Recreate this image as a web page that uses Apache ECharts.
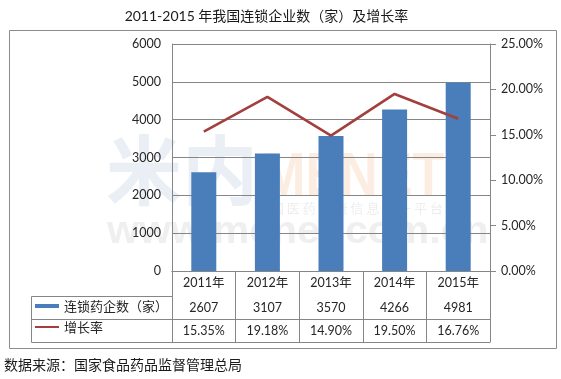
<!DOCTYPE html>
<html><head><meta charset="utf-8">
<script src="https://cdn.jsdelivr.net/npm/echarts@6/dist/echarts.min.js"></script>
<style>html,body{margin:0;padding:0;background:#fff}#c{width:561px;height:379px}</style>
</head><body><div id="c"></div>
<script>
// ---- data ----
const titleText = '2011-2015 年我国连锁企业数（家）及增长率';
const sourceText = '数据来源：国家食品药品监督管理总局';
const years = ['2011年', '2012年', '2013年', '2014年', '2015年'];
const storeCounts = [2607, 3107, 3570, 4266, 4981];
const growthRates = [15.35, 19.18, 14.90, 19.50, 16.76];
const barName = '连锁药企数（家）';
const lineName = '增长率';
const leftAxisTicks = [0, 1000, 2000, 3000, 4000, 5000, 6000];
const rightAxisTicks = [0, 5, 10, 15, 20, 25];

// ---- styling ----
const FONT = 'Lato, "Noto Sans CJK SC", sans-serif';
const CJK = '"Noto Sans CJK SC", sans-serif';
const GRAY = '#868686';
const TXT = '#262626';
const BAR = '#4a7ebb';
const LINE = '#a3403d';

const chart = echarts.init(document.getElementById('c'), null, {renderer: 'canvas'});

const pct = v => v.toFixed(2) + '%';
const catAxisBase = {
  type: 'category', position: 'bottom', boundaryGap: true,
  axisLine: {show: true, lineStyle: {color: GRAY, width: 1}},
  axisTick: {show: false},
  axisLabel: {fontFamily: FONT, fontSize: 12.5, color: TXT, margin: 6},
  splitLine: {show: false}
};

const option = {
  animation: false,
  backgroundColor: '#fff',
  grid: {left: 172, right: 71, top: 44, bottom: 108, containLabel: false, outerBoundsMode: 'none'},
  legend: [
    {data: [{name: barName, icon: 'path://M0,0L24,0L24,4L0,4Z'}], left: 35, top: 298, padding: 0,
     itemWidth: 24, itemHeight: 4, selectedMode: false,
     textStyle: {fontFamily: CJK, fontSize: 13, color: TXT, lineHeight: 16}},
    {data: [{name: lineName, icon: 'path://M0,0L24,0L24,2L0,2Z'}], left: 35, top: 319, padding: 0,
     itemWidth: 24, itemHeight: 4, selectedMode: false,
     textStyle: {fontFamily: CJK, fontSize: 13, color: TXT, lineHeight: 16}}
  ],
  xAxis: [
    Object.assign({}, catAxisBase, {data: years,
      axisTick: {show: true, length: 71, lineStyle: {color: GRAY}}}),
    Object.assign({}, catAxisBase, {data: storeCounts.map(String), offset: 25}),
    Object.assign({}, catAxisBase, {data: growthRates.map(pct), offset: 48}),
    Object.assign({}, catAxisBase, {data: years, offset: 71, axisLabel: {show: false}})
  ],
  yAxis: [
    {type: 'value', min: leftAxisTicks[0], max: leftAxisTicks[leftAxisTicks.length - 1],
     interval: leftAxisTicks[1] - leftAxisTicks[0],
     axisLine: {show: true, lineStyle: {color: GRAY}},
     axisTick: {show: false},
     axisLabel: {fontFamily: FONT, fontSize: 12.5, color: TXT, margin: 11, formatter: v => String(v)},
     splitLine: {show: true, lineStyle: {color: GRAY, width: 1}}},
    {type: 'value', min: rightAxisTicks[0], max: rightAxisTicks[rightAxisTicks.length - 1],
     interval: rightAxisTicks[1] - rightAxisTicks[0],
     axisLine: {show: true, lineStyle: {color: GRAY}},
     axisTick: {show: true, inside: false, length: 6, lineStyle: {color: GRAY}},
     axisLabel: {fontFamily: FONT, fontSize: 12.5, color: TXT, margin: 11, formatter: v => pct(v)},
     splitLine: {show: false}}
  ],
  series: [
    {name: barName, type: 'bar', data: storeCounts, xAxisIndex: 0, yAxisIndex: 0,
     barWidth: 25, itemStyle: {color: BAR}, z: 3},
    {name: lineName, type: 'line', data: growthRates, xAxisIndex: 0, yAxisIndex: 1,
     symbol: 'none', lineStyle: {color: LINE, width: 2.6}, itemStyle: {color: LINE}, z: 4}
  ],
  graphic: [
    // watermark (faint, behind everything)
    {type: 'text', left: 106, top: 132, z: -10, silent: true,
     style: {text: '米内', font: 'bold 76px "Noto Sans CJK SC"', fill: '#e9eff5'}},
    {type: 'text', x: 262, y: 147, z: -10, silent: true, scaleX: 0.84,
     style: {text: 'MENET', font: 'bold 62px "Liberation Sans"', fill: '#fcede2', textVerticalAlign: 'top'}},
    {type: 'text', x: 255, y: 202, z: -10, silent: true,
     style: {text: '中 国 医 药 健 康 信 息 第 一 平 台', font: '13px "Noto Sans CJK SC"', fill: '#ededed'}},
    {type: 'text', x: 107, y: 214, z: -10, silent: true, scaleX: 1.08,
     style: {text: 'www.menet.com.cn', font: 'bold 38px "Liberation Sans"', fill: '#efefef'}},
    // title
    {type: 'text', x: 266.5, y: 16, silent: true,
     style: {text: titleText, font: '14px ' + FONT, fill: '#1a1a1a', textAlign: 'center', textVerticalAlign: 'middle'}},
    // outer frame
    {type: 'rect', silent: true, z: 0,
     shape: {x: 9.5, y: 30.5, width: 547, height: 318},
     style: {fill: 'none', stroke: '#8c8c8c', lineWidth: 1}},
    // left part of data table
    {type: 'polyline', silent: true, z: 5,
     shape: {points: [[172, 296.5], [31.5, 296.5], [31.5, 342.5], [172, 342.5]]},
     style: {fill: 'none', stroke: GRAY, lineWidth: 1}},
    {type: 'line', silent: true, z: 5,
     shape: {x1: 31.5, y1: 319.5, x2: 172, y2: 319.5},
     style: {stroke: GRAY, lineWidth: 1}},
    // source
    {type: 'text', x: 4, y: 365, silent: true,
     style: {text: sourceText, font: '14px ' + CJK, fill: '#1a1a1a', textVerticalAlign: 'middle'}}
  ]
};
chart.setOption(option);
</script>
</body></html>
